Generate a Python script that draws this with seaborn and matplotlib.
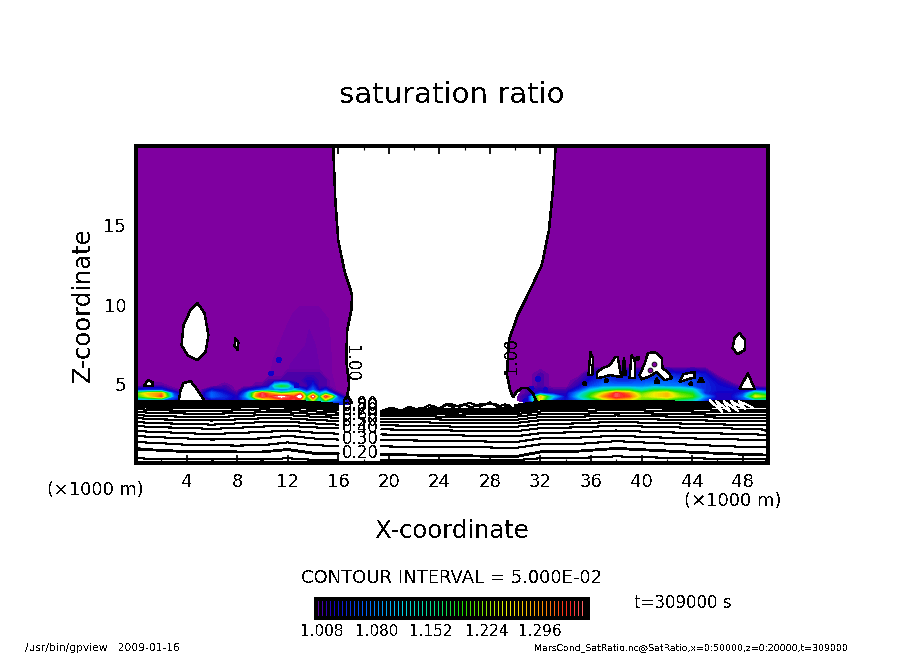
import numpy as np
import pandas as pd
import matplotlib
matplotlib.use('Agg')
import matplotlib.pyplot as plt
from matplotlib.colors import LinearSegmentedColormap
import seaborn as sns

# contour heights (km) at each station, one list per ratio level
stations = [0, 2, 4, 6, 8, 10, 12, 14, 16, 19.4, 22, 25, 28, 30, 32, 35, 38, 41, 44, 47, 50]
levels = [0.15, 0.20, 0.25, 0.30, 0.35, 0.40, 0.45, 0.50, 0.55, 0.60, 0.65, 0.70, 0.75, 0.80, 0.85, 0.90, 0.95]
line_15 = [.30, .25, .28, .22, .25, .22, .30, .20, .20, .20, .18, .18, .18, .18, .30, .32, .42, .35, .30, .25, .22]
line_20 = [.88, .80, .72, .74, .70, .70, .85, .62, .60, .55, .50, .48, .42, .40, .70, .75, .92, .80, .68, .58, .50]
line_25 = [1.32, 1.25, 1.15, 1.12, 1.10, 1.12, 1.30, 1.12, 1.08, 1.05, 1.02, 1.00, .98, .95, 1.18, 1.20, 1.38, 1.26, 1.15, 1.05, .98]
line_30 = [1.70, 1.62, 1.55, 1.48, 1.52, 1.55, 1.72, 1.55, 1.48, 1.45, 1.42, 1.40, 1.35, 1.32, 1.55, 1.60, 1.72, 1.62, 1.55, 1.50, 1.42]
line_35 = [2.01, 1.95, 1.88, 1.82, 1.90, 1.95, 2.05, 1.92, 1.85, 1.80, 1.78, 1.75, 1.70, 1.68, 1.88, 1.95, 2.05, 1.95, 1.90, 1.85, 1.78]
line_40 = [2.33, 2.25, 2.22, 2.15, 2.22, 2.30, 2.35, 2.25, 2.18, 2.12, 2.10, 2.05, 2.02, 2.00, 2.20, 2.25, 2.35, 2.28, 2.22, 2.18, 2.10]
line_45 = [2.58, 2.50, 2.48, 2.42, 2.50, 2.58, 2.60, 2.50, 2.42, 2.38, 2.35, 2.30, 2.28, 2.28, 2.45, 2.50, 2.60, 2.52, 2.48, 2.42, 2.38]
line_50 = [2.83, 2.75, 2.72, 2.68, 2.75, 2.82, 2.82, 2.72, 2.65, 2.60, 2.58, 2.52, 2.50, 2.52, 2.70, 2.72, 2.80, 2.75, 2.70, 2.65, 2.62]
line_55 = [3.02, 2.95, 2.92, 2.90, 2.95, 3.02, 3.02, 2.92, 2.85, 2.78, 2.80, 2.72, 2.72, 2.72, 2.90, 2.92, 3.00, 2.95, 2.90, 2.85, 2.82]
line_60 = [3.21, 3.15, 3.12, 3.10, 3.15, 3.20, 3.20, 3.10, 3.02, 2.95, 2.98, 2.90, 2.92, 2.92, 3.08, 3.10, 3.18, 3.12, 3.08, 3.02, 3.02]
line_65 = [3.40, 3.32, 3.30, 3.28, 3.32, 3.38, 3.36, 3.26, 3.18, 3.08, 3.12, 3.05, 3.08, 3.08, 3.25, 3.28, 3.35, 3.30, 3.25, 3.20, 3.20]
line_70 = [3.52, 3.48, 3.45, 3.45, 3.50, 3.52, 3.50, 3.42, 3.32, 3.18, 3.25, 3.18, 3.22, 3.22, 3.40, 3.42, 3.50, 3.45, 3.40, 3.35, 3.36]
line_75 = [3.65, 3.60, 3.60, 3.58, 3.62, 3.65, 3.62, 3.55, 3.45, 3.25, 3.35, 3.30, 3.32, 3.35, 3.52, 3.55, 3.62, 3.58, 3.52, 3.50, 3.52]
line_80 = [3.74, 3.72, 3.70, 3.70, 3.72, 3.74, 3.72, 3.65, 3.55, 3.28, 3.42, 3.38, 3.42, 3.45, 3.62, 3.66, 3.72, 3.70, 3.62, 3.64, 3.64]
line_85 = [3.80, 3.78, 3.78, 3.78, 3.80, 3.82, 3.80, 3.74, 3.62, 3.32, 3.50, 3.48, 3.52, 3.52, 3.72, 3.76, 3.80, 3.78, 3.72, 3.74, 3.74]
line_90 = [3.87, 3.85, 3.85, 3.85, 3.87, 3.88, 3.86, 3.80, 3.68, 3.30, 3.45, 3.55, 3.58, 3.60, 3.80, 3.84, 3.86, 3.84, 3.80, 3.82, 3.82]
line_95 = [3.93, 3.92, 3.92, 3.92, 3.93, 3.93, 3.92, 3.86, 3.72, 3.35, 3.52, 3.60, 3.62, 3.66, 3.88, 3.90, 3.92, 3.90, 3.86, 3.90, 3.90]
all_lines = [line_15, line_20, line_25, line_30, line_35, line_40, line_45, line_50, line_55,
             line_60, line_65, line_70, line_75, line_80, line_85, line_90, line_95]
labelled = [0.20, 0.30, 0.40, 0.50, 0.60, 0.70, 0.80, 0.90]

# wiggly contours over the middle and the hatch near x=46
ripple_a_x = [19.5, 20, 20.5, 21, 21.5, 22, 22.5, 23, 23.5, 24, 24.5, 25, 25.5, 26, 26.5, 27, 27.5, 28, 28.5, 29, 29.5, 30, 30.5, 31, 31.5, 32]
ripple_a_z = [3.3, 3.15, 3.35, 3.2, 3.4, 3.25, 3.5, 3.35, 3.6, 3.4, 3.7, 3.55, 3.6, 3.7, 3.5, 3.65, 3.75, 3.72, 3.7, 3.45, 3.65, 3.3, 3.55, 3.25, 3.6, 3.8]
ripple_b_x = [19.5, 20.2, 21, 21.6, 22.4, 23.2, 24, 24.8, 25.6, 26.4, 27.2, 28, 28.6, 29.2, 30, 30.8, 31.6, 32.2]
ripple_b_z = [3.3, 3.5, 3.3, 3.55, 3.35, 3.65, 3.45, 3.75, 3.55, 3.8, 3.55, 3.82, 3.55, 3.7, 3.35, 3.65, 3.3, 3.8]
ripple_c_x = [45.4, 46.4, 45.9, 47.0, 46.5, 47.6, 47.1, 48.2, 47.7, 48.8]
ripple_c_z = [3.95, 3.2, 3.9, 3.25, 3.9, 3.3, 3.9, 3.4, 3.9, 3.5]

# saturation in percent, rows at field_z, columns at field_x
field_x = [0, 1, 2, 3, 4, 5, 6, 7, 8, 8.5, 9, 9.5, 10, 10.5, 11, 11.5, 12, 12.5, 13, 13.5, 14, 14.5, 15, 15.5, 16, 16.5, 17, 17.5,
           29.5, 30, 31, 32, 33, 34, 35, 36, 37, 38, 39, 40, 41, 42, 43, 44, 45, 46, 47, 48, 49, 50]
field_z = [3.7, 3.95, 4.2, 4.4, 4.6, 4.85, 5.2, 5.6, 6.1]
sat_370 = [100, 100, 100, 100, 100, 100, 100, 100, 100,
           100, 100, 100, 100, 100, 100, 100, 100, 100,
           100, 100, 100, 100, 100, 100, 102, 104, 100, 100,
           100, 100, 100, 100, 100, 100, 100, 100, 100, 100, 100, 100, 100, 100, 100, 100, 100, 100, 100, 100, 100, 100]
sat_395 = [104, 106, 106, 103, 100, 100, 102, 103, 102,
           104, 106, 110, 116, 122, 124, 126, 128, 130,
           124, 112, 120, 110, 118, 108, 106, 104, 100, 100,
           100, 100, 102, 122, 104, 103, 106, 112, 118, 124, 122, 118, 116, 116, 114, 112, 104, 102, 102, 104, 108, 110]
sat_420 = [116, 122, 128, 106, 100, 100, 106, 104, 102,
           106, 112, 126, 130, 128, 130, 132, 130, 128,
           134, 116, 132, 114, 130, 122, 104, 101, 100, 100,
           100, 100, 102, 124, 110, 102, 110, 118, 126, 130, 128, 120, 122, 124, 120, 118, 108, 102, 102, 106, 122, 118]
sat_440 = [118, 124, 126, 104, 100, 100, 106, 103, 101,
           104, 112, 124, 130, 126, 122, 118, 120, 122,
           126, 110, 118, 108, 114, 104, 101, 100, 100, 100,
           100, 100, 101, 104, 102, 102, 108, 116, 122, 130, 126, 118, 122, 124, 118, 116, 104, 102, 102, 104, 116, 112]
sat_460 = [103, 104, 104, 101, 100, 100, 103, 102, 100,
           102, 103, 104, 106, 108, 106, 104, 105, 110,
           106, 103, 106, 102, 104, 101, 100, 100, 100, 100,
           100, 100, 101, 102, 101, 101, 104, 110, 114, 116, 116, 112, 116, 116, 114, 112, 104, 103, 103, 102, 104, 103]
sat_485 = [100, 101, 101, 100, 100, 100, 100, 101, 100,
           100, 100, 101, 101, 102, 112, 116, 114, 104,
           101, 101, 104, 101, 101, 100, 100, 100, 100, 100,
           100, 100, 100, 101, 100, 100, 102, 105, 107, 107, 107, 107, 108, 107, 107, 105, 104, 103, 102, 100, 100, 100]
sat_520 = [100, 100, 100, 100, 100, 100, 100, 100, 100,
           100, 100, 100, 100, 101, 101, 101, 101, 101,
           101, 102, 102, 101, 101, 100, 100, 100, 100, 100,
           100, 100, 100, 101, 100, 100, 101, 103, 105, 104, 104, 105, 105, 106, 105, 105, 104, 102, 100, 100, 100, 100]
sat_560 = [100, 100, 100, 100, 100, 100, 100, 100, 100,
           100, 100, 100, 100, 100, 100, 100, 101, 101,
           101, 101, 101, 101, 100, 100, 100, 100, 100, 100,
           100, 100, 100, 101, 100, 100, 100, 102, 104, 103, 103, 103, 104, 104, 103, 104, 103, 100, 100, 100, 100, 100]
sat_610 = [100, 100, 100, 100, 100, 100, 100, 100, 100,
           100, 100, 100, 100, 100, 100, 100, 100, 100,
           100, 100, 100, 100, 100, 100, 100, 100, 100, 100,
           100, 100, 100, 100, 100, 100, 100, 100, 100, 100, 100, 100, 100, 100, 100, 100, 100, 100, 100, 100, 100, 100]
all_sat = [sat_370, sat_395, sat_420, sat_440, sat_460, sat_485, sat_520, sat_560, sat_610]

# saturated area edges and the dry patches inside it
left_area = [(0, 3.9), (0, 20), (15.6, 20), (15.77, 16.57), (16.0, 14.05), (16.48, 12.16), (17.1, 10.59), (17.03, 9.64),
             (16.71, 8.38), (16.63, 6.49), (16.87, 4.91), (16.71, 4.28), (17.1, 3.78)]
right_area = [(50, 3.9), (50, 20), (33.2, 20), (32.98, 17.2), (32.67, 14.68), (32.1, 12.48), (31.17, 10.9), (30.2, 9.33),
              (29.5, 7.75), (29.35, 5.55), (29.6, 4.6), (29.83, 4.16), (30.1, 4.47), (30.5, 4.73), (31, 4.73), (31.4, 4.41), (31.7, 3.84)]
haze_outer = [(10.5, 4.2), (10.8, 6.4), (11.8, 8.4), (12.4, 9.4), (13.0, 9.9), (14.4, 9.9), (15.2, 9.1), (15.4, 7.5), (15.5, 5.6), (16, 4.0)]
haze_inner = [(11.8, 4.9), (12.2, 6.2), (13.4, 7.4), (13.7, 8.4), (14.2, 7.4), (14.6, 5.6), (14.8, 4.3)]
hole_a = [(4.87, 10.08), (5.42, 9.45), (5.73, 8.07), (5.5, 7.0), (4.87, 6.49), (4.08, 6.8), (3.6, 7.44), (3.76, 8.7), (4.31, 9.64)]
hole_b = [(7.85, 7.88), (8.1, 7.6), (8.05, 7.12), (7.8, 7.4)]
hole_c = [(3.37, 3.84), (3.52, 4.6), (3.76, 5.04), (4.31, 5.17), (4.87, 4.6), (5.5, 3.84)]
hole_d = [(0.6, 4.85), (0.95, 5.23), (1.31, 5.1), (1.31, 4.85)]
hole_e = [(47.75, 8.19), (48.2, 7.75), (48.15, 7.12), (47.6, 6.87), (47.2, 7.25), (47.35, 7.88)]
hole_f = [(47.75, 4.66), (48.4, 5.67), (48.95, 4.66)]
hole_g = [(35.8, 5.55), (35.95, 7.0), (36.15, 6.6), (36.1, 5.55)]
hole_h = [(36.45, 5.73), (36.95, 5.99), (37.5, 6.18), (37.9, 6.68), (38.1, 6.68), (38.3, 5.86), (38.4, 5.42), (37.5, 5.55), (36.95, 5.42), (36.45, 5.36)]
hole_i = [(38.5, 5.55), (38.6, 6.68), (38.75, 5.55)]
hole_j = [(39.05, 5.36), (39.2, 6.8), (39.45, 6.5), (39.5, 5.36)]
hole_k = [(39.85, 5.55), (40.25, 6.3), (40.5, 6.93), (41.05, 7.0), (41.6, 6.62), (41.65, 5.99), (42.1, 5.73), (42.4, 5.36), (41.85, 5.23), (41.2, 5.73), (40.5, 5.42), (40.0, 5.29)]
hole_l = [(43.0, 5.1), (43.3, 5.6), (44.2, 5.75), (44.2, 5.4), (43.5, 5.25)]
hole_m = [(41.05, 5.05), (41.2, 5.35), (41.4, 5.05)]
hole_n = [(44.5, 5.1), (44.7, 5.4), (44.9, 5.1)]
all_holes = [hole_a, hole_b, hole_c, hole_d, hole_e, hole_f, hole_g, hole_h, hole_i, hole_j, hole_k, hole_l, hole_m, hole_n]

# isolated blue cells and small dark specks
dot_x = [10.7, 11.3, 12.7, 30.8, 31.8, 32.4, 31.3]
dot_z = [5.65, 6.5, 4.9, 3.9, 5.3, 4.6, 4.7]
speck_x = [37.2, 39.7, 43.9, 35.5]
speck_z = [5.2, 6.6, 5.0, 5.0]
pocket_x = [41.0, 40.7]
pocket_z = [6.25, 5.85]

# colour scale: position on the bar and colour
scale_vals = [1.0, 1.01, 1.025, 1.06, 1.10, 1.14, 1.17, 1.22, 1.26, 1.29, 1.31]
scale_cols = ['#7f00a0', '#4a00a8', '#1000c8', '#0060ff', '#00d0f0', '#00e080', '#20e000', '#f0f000', '#ff9000', '#ff2020', '#ff8080']
bar_labels = ['1.008', '1.080', '1.152', '1.224', '1.296']
bar_label_px = [322, 377, 431, 487, 540]

sns.set_style('ticks')
plt.rcParams['font.family'] = ['DejaVu Sans']
plt.rcParams['text.antialiased'] = False
plt.rcParams['lines.antialiased'] = False
plt.rcParams['patch.antialiased'] = False
plt.rcParams['text.color'] = 'black'
plt.rcParams['axes.labelcolor'] = 'black'
plt.rcParams['xtick.color'] = 'black'
plt.rcParams['ytick.color'] = 'black'
plt.rcParams['axes.edgecolor'] = 'black'

WIDTH, HEIGHT = 904, 654
fig = plt.figure(figsize=(WIDTH / 100, HEIGHT / 100), dpi=100)
ax = fig.add_axes([136 / WIDTH, 1 - 463 / HEIGHT, 632 / WIDTH, 317 / HEIGHT])

# purple area
for area in [left_area, right_area]:
    ax.fill(*zip(*area), color='#7f00a0', zorder=1, lw=0)
ax.fill(*zip(*haze_outer), color='#7400a4', zorder=1.1, lw=0)
ax.fill(*zip(*haze_inner), color='#6a00a8', zorder=1.2, lw=0)

# shaded field
vmin, vmax = scale_vals[0], scale_vals[-1]
cmap = LinearSegmentedColormap.from_list(
    'satratio', [((v - vmin) / (vmax - vmin), c) for v, c in zip(scale_vals, scale_cols)], N=256)
cmap.set_over('white')
sat = np.array(all_sat) / 100
shade_levels = np.linspace(1.004, 1.31, 78)
ax.contourf(field_x, field_z, sat, levels=shade_levels, cmap=cmap, vmin=vmin, vmax=vmax,
            extend='max', zorder=2, antialiased=False)
sns.scatterplot(x=dot_x, y=dot_z, s=12, color='#1000c8', edgecolor='none', zorder=3, ax=ax, legend=False)

# dry holes
for hole in all_holes:
    ax.fill(*zip(*hole), facecolor='white', edgecolor='black', lw=1.0, zorder=4)
sns.scatterplot(x=speck_x, y=speck_z, s=8, color='black', edgecolor='none', zorder=4.5, ax=ax, legend=False)
sns.scatterplot(x=pocket_x, y=pocket_z, s=12, color='#7f00a0', edgecolor='black', linewidth=0.6, zorder=4.5, ax=ax, legend=False)

# contour lines, broken where the labels sit; the top levels turn into ripples in the middle
rows = []
for level, heights in zip(levels, all_lines):
    for x, z in zip(stations, heights):
        if level >= 0.85 and 17 < x < 30:
            continue
        rows.append({'x': x, 'z': z, 'level': level, 'unit': f'{level:.2f}-{"L" if x < 17 else "R"}'})
lines = pd.DataFrame(rows)
sns.lineplot(data=lines, x='x', y='z', units='unit', estimator=None, color='black', lw=0.75,
             sort=False, legend=False, ax=ax, zorder=5)
sns.lineplot(data=lines[lines['level'] == 0.20], x='x', y='z', units='unit', estimator=None, color='black', lw=1.3,
             sort=False, legend=False, ax=ax, zorder=5)
ax.plot(ripple_a_x, ripple_a_z, color='black', lw=0.75, zorder=5)
ax.plot(ripple_b_x, ripple_b_z, color='black', lw=0.75, zorder=5)
ax.plot(ripple_c_x, ripple_c_z, color='white', lw=0.75, zorder=5)

# heavy edges of the saturated area
ax.plot(*zip(*left_area[2:]), color='black', lw=1.1, zorder=5)
ax.plot(*zip(*right_area[2:]), color='black', lw=1.1, zorder=5)

# contour labels
for level, heights in zip(levels, all_lines):
    if round(level, 2) in labelled:
        ax.text(17.75, heights[8] + 0.02, f'{level:.2f}', ha='center', va='center', fontsize=12, zorder=6)
ax.text(17.0, 6.3, '1.00', rotation=-90, ha='center', va='center', fontsize=12, zorder=6)
ax.text(29.7, 6.8, '1.00', rotation=90, ha='center', va='center', fontsize=12, zorder=6)

# axes
ax.set_xlim(0, 50)
ax.set_ylim(0, 20)
ax.set_xticks(range(4, 49, 4))
ax.set_xticks(range(2, 50, 4), minor=True)
ax.set_yticks([5, 10, 15])
ax.set_yticks([z for z in range(1, 20) if z % 5], minor=True)
ax.tick_params(which='major', direction='in', length=6, width=1.3, top=True, right=True, labelsize=13, pad=7)
ax.tick_params(which='minor', direction='in', length=3.2, width=0.8, top=True, right=True)
for side in ax.spines.values():
    side.set_visible(True)
    side.set_linewidth(1.5)
    side.set_zorder(10)
ax.set_xlabel('X-coordinate', fontsize=17.5, labelpad=20)
ax.set_ylabel('Z-coordinate', fontsize=17.5, labelpad=6)
ax.set_title('saturation ratio', fontsize=21, pad=31)


def put(px, py, text, size, ha='center'):
    fig.text(px / WIDTH, 1 - py / HEIGHT, text, fontsize=size, ha=ha, va='center')


put(95, 490, '(×1000 m)', 12.8)
put(733, 501, '(×1000 m)', 13)
put(452, 578, 'CONTOUR INTERVAL = 5.000E-02', 13)
put(683, 603, 't=309000 s', 12)
put(25, 648, '/usr/bin/gpview   2009-01-16', 7.7, 'left')
put(848, 648, 'MarsCond_SatRatio.nc@SatRatio,x=0:50000,z=0:20000,t=309000', 6.75, 'right')
for px, label in zip(bar_label_px, bar_labels):
    put(px, 631, label, 11)

# striped colour bar
cax = fig.add_axes([316 / WIDTH, 1 - 618 / HEIGHT, 272 / WIDTH, 19 / HEIGHT])
bar_steps = np.linspace(1.008, 1.308, 68)
sns.heatmap(bar_steps[np.newaxis, :], ax=cax, cmap=cmap, vmin=vmin, vmax=vmax, cbar=False,
            linewidths=0.8, linecolor='black', xticklabels=False, yticklabels=False)
for side in cax.spines.values():
    side.set_visible(True)
    side.set_color('black')
    side.set_linewidth(1.5)

fig.savefig('out.png', dpi=100)
